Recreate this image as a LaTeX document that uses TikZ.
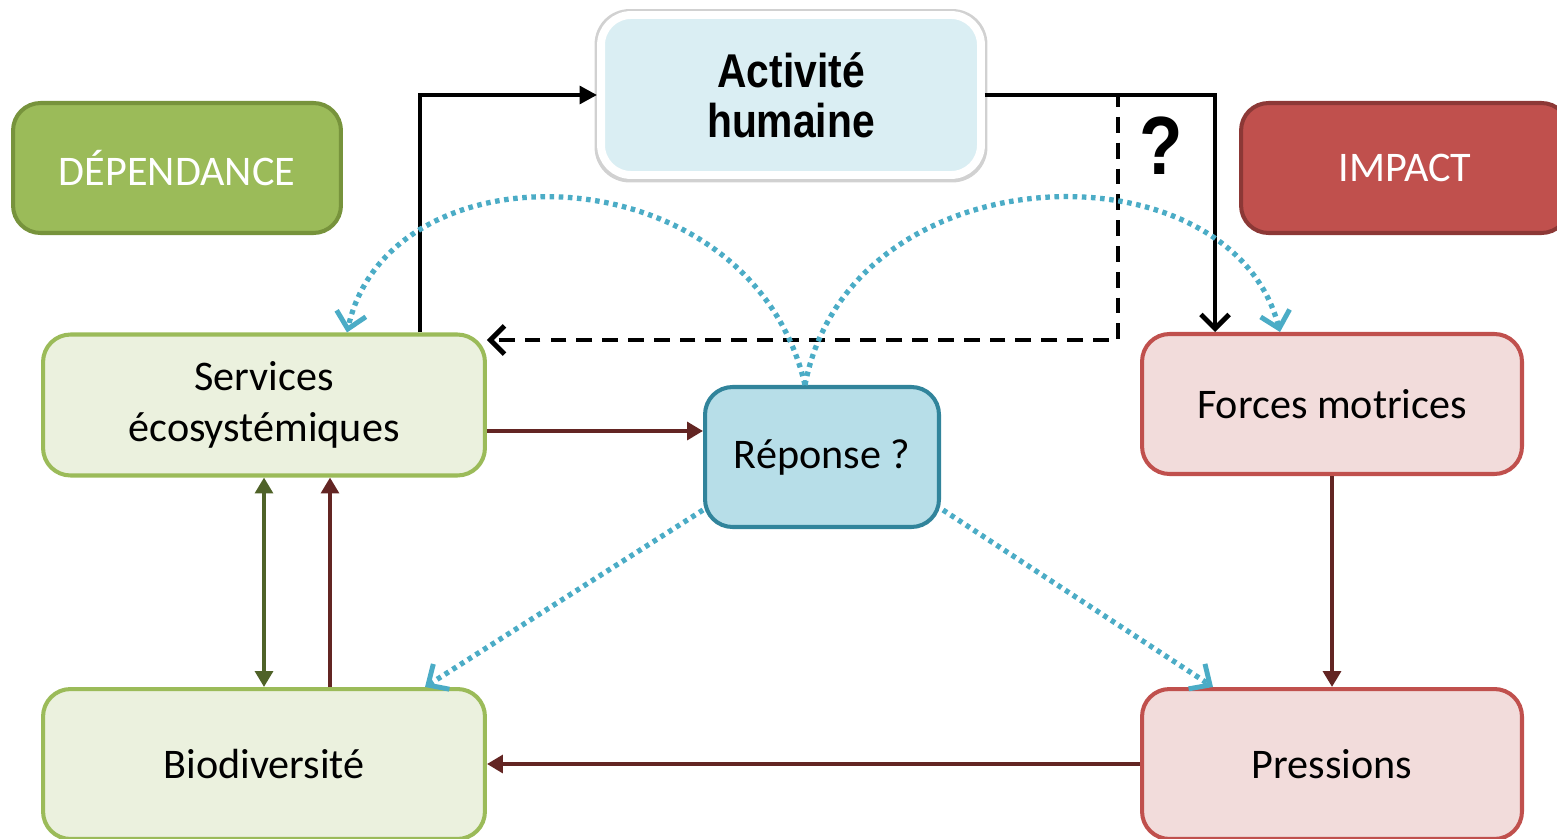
\documentclass[tikz,border=0pt]{standalone}
\usepackage{fontspec}
\setmainfont{Carlito}
\newfontfamily\actfont[FakeStretch=0.86]{Liberation Sans}
\usetikzlibrary{arrows.meta,calc,backgrounds}
\definecolor{actfill}{HTML}{DAEEF3}
\definecolor{depfill}{HTML}{9BBB59}
\definecolor{depdraw}{HTML}{77933C}
\definecolor{impfill}{HTML}{C0504D}
\definecolor{impdraw}{HTML}{8C3836}
\definecolor{sesfill}{HTML}{EBF1DE}
\definecolor{repfill}{HTML}{B7DEE8}
\definecolor{repdraw}{HTML}{31849B}
\definecolor{frcfill}{HTML}{F2DCDB}
\definecolor{frcdraw}{HTML}{C0504D}
\definecolor{bluedot}{HTML}{4BACC6}
\definecolor{darkred}{HTML}{632523}
\definecolor{darkgreen}{HTML}{4F6228}
\tikzset{
  box/.style={rounded corners=0.55cm, line width=2.3pt, inner sep=0pt, align=center,
    font=\fontsize{24}{29}\selectfont},
  greenbox/.style={box, fill=sesfill, draw=depfill},
  redbox/.style={box, fill=frcfill, draw=frcdraw},
  blk/.style={line width=2.8pt, black},
  dsh/.style={blk, dash pattern=on 9pt off 5.7pt},
  dotblue/.style={line width=3pt, bluedot, dash pattern=on 2.6pt off 2.6pt,
    -{Straight Barb[length=9pt,width=17pt,line width=2.8pt]}},
  redarrow/.style={line width=2.5pt, darkred, -{Triangle[length=9pt,width=10pt]}},
  barb/.style={-{Straight Barb[length=8pt,width=16pt,line width=2.8pt]}},
}
\begin{document}
\begin{tikzpicture}[x=0.02cm,y=-0.02cm]
\useasboundingbox (0,0) rectangle (1557,838);
% nodes
\node[box, fill=actfill, draw=white, line width=4.5pt, rounded corners=0.6cm,
  minimum width=7.6cm, minimum height=3.2cm,
  font={\actfont\bfseries\fontsize{27}{28.5}\selectfont}] (act) at (791,95) {Activité\\humaine};
\begin{scope}[on background layer]
  \fill[black!18, rounded corners=0.7cm] ($(act.south west)+(-2.5,3.5)$) rectangle ($(act.north east)+(2.5,-2)$);
\end{scope}
\node[box, fill=depfill, draw=depdraw, text=white, minimum width=6.56cm, minimum height=2.6cm] (dep) at (177,168) {DÉPENDANCE};
\node[box, fill=impfill, draw=impdraw, text=white, minimum width=6.56cm, minimum height=2.6cm] (imp) at (1405,168) {IMPACT};
\node[greenbox, minimum width=8.84cm, minimum height=2.82cm] (ses) at (264,405) {Services\\écosystémiques};
\node[box, fill=repfill, draw=repdraw, minimum width=4.68cm, minimum height=2.8cm] (rep) at (822,457) {Réponse ?};
\node[redbox, minimum width=7.6cm, minimum height=2.8cm] (frc) at (1332,404) {Forces motrices};
\node[greenbox, minimum width=8.84cm, minimum height=3.0cm] (bio) at (264,764) {Biodiversité};
\node[redbox, minimum width=7.6cm, minimum height=3.0cm] (prs) at (1332,764) {Pressions};
\node[font={\actfont\bfseries\fontsize{47}{47}\selectfont}] (q) at (1161,146) {?};
% black connectors
\draw[blk, -{Triangle[length=10pt,width=10pt]}] ($(ses.north)+(156,0)$) |- (act.west);
\draw[blk, barb] (act.east) -| ($(frc.north)+(-117,0)$);
\coordinate (dc) at (1118,340);
\draw[dsh, barb] (act.east) -| (dc) -- (dc -| ses.east);
% dotted curves
\draw[dotblue] ($(rep.north)+(-17,0)$) .. controls (750,150) and (390,140) .. ($(ses.north)+(83,0)$);
\draw[dotblue] ($(rep.north)+(-17,0)$) .. controls (850,150) and (1230,140) .. ($(frc.north)+(-52,0)$);
\draw[dotblue] ($(rep.south west)+(0,-19)$) -- ($(bio.north)+(161,0)$);
\draw[dotblue] ($(rep.south east)+(2,-19)$) -- ($(prs.north)+(-119,0)$);
% dark red / green
\draw[redarrow] ($(ses.east)+(0,26)$) coordinate (s1) -- (s1 -| rep.west);
\draw[line width=2.5pt, darkgreen, {Triangle[length=9pt,width=10pt]}-{Triangle[length=9pt,width=10pt]}] (bio.north) -- (ses.south);
\draw[redarrow] ($(bio.north)+(66,0)$) -- ($(ses.south)+(66,0)$);
\draw[redarrow] (frc.south) -- (prs.north);
\draw[redarrow] (prs.west) -- (bio.east);
\end{tikzpicture}
\end{document}
